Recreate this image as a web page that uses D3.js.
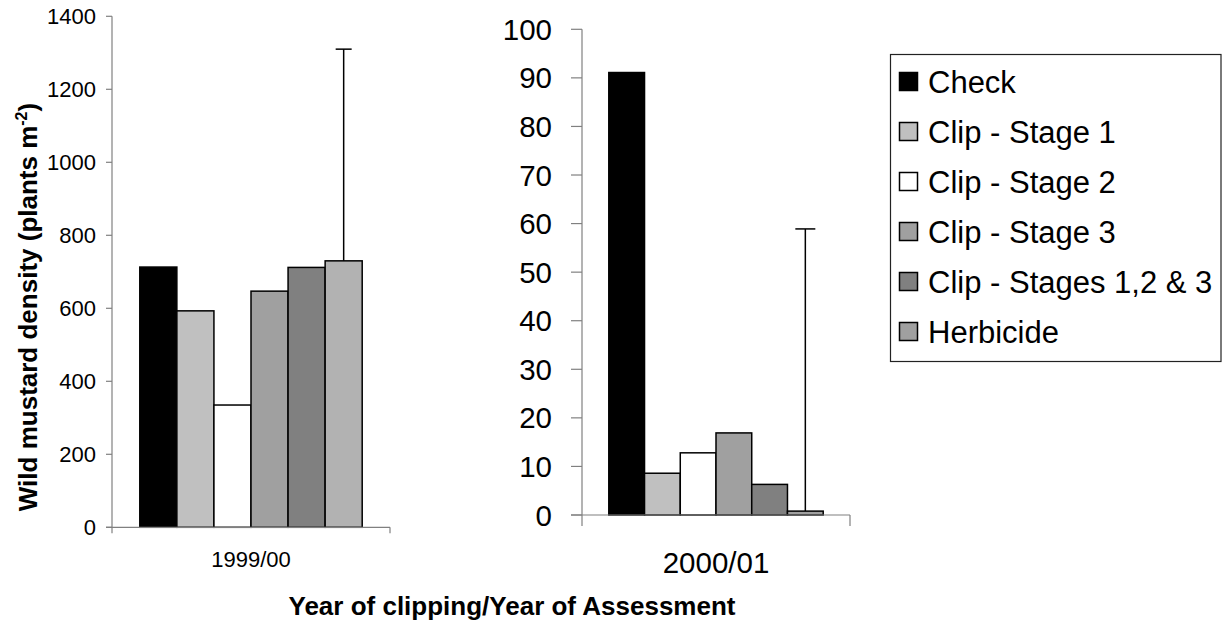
<!DOCTYPE html>
<html>
<head>
<meta charset="utf-8">
<script src="https://cdn.jsdelivr.net/npm/d3@7/dist/d3.min.js"></script>
<style>
  html, body { margin: 0; padding: 0; background: #fff; }
  svg { display: block; font-family: "Liberation Sans", Arial, Helvetica, sans-serif; }
</style>
</head>
<body>
<svg id="chart" width="1222" height="623"></svg>
<script>
// ---- data ----
const treatments = ["Check", "Clip - Stage 1", "Clip - Stage 2", "Clip - Stage 3", "Clip - Stages 1,2 & 3", "Herbicide"];
const years = ["1999/00", "2000/01"];
const values1999 = [713, 593, 335, 647, 712, 730];
const errors1999 = [0, 0, 0, 0, 0, 580];
const values2000 = [91.1, 8.6, 12.8, 16.9, 6.3, 0.8];
const errors2000 = [0, 0, 0, 0, 0, 58.1];
const ticks1999 = [0, 200, 400, 600, 800, 1000, 1200, 1400];
const ticks2000 = [0, 10, 20, 30, 40, 50, 60, 70, 80, 90, 100];
const colors = ["#000000", "#c0c0c0", "#ffffff", "#a0a0a0", "#808080", "#a0a0a0"];
const yTitle = "Wild mustard density (plants m";
const xTitle = "Year of clipping/Year of Assessment";

const svg = d3.select("#chart");
const axisColor = "#808080";

function panel(cfg) {
  const g = svg.append("g");
  const y = d3.scaleLinear().domain([0, cfg.max]).range([cfg.bottom, cfg.top]);
  const x = d3.scaleBand().domain([cfg.year]).range([cfg.left, cfg.right]).paddingInner(0.2).paddingOuter(0.1);
  const xb = d3.scaleBand().domain(d3.range(treatments.length)).range([0, x.bandwidth()]);

  g.append("line").attr("x1", cfg.left).attr("x2", cfg.left)
    .attr("y1", y(cfg.max)).attr("y2", y(0))
    .attr("stroke", axisColor).attr("stroke-width", 1.2);
  g.selectAll(".yt").data(cfg.ticks).enter().append("line")
    .attr("x1", cfg.left - cfg.tickLen).attr("x2", cfg.left)
    .attr("y1", d => y(d)).attr("y2", d => y(d))
    .attr("stroke", axisColor).attr("stroke-width", 1.2);
  g.selectAll(".yl").data(cfg.ticks).enter().append("text")
    .attr("x", cfg.left - cfg.labelGap)
    .attr("y", d => y(d))
    .attr("dy", "0.36em")
    .attr("text-anchor", "end")
    .attr("font-size", cfg.fontSize)
    .attr("fill", "#000")
    .text(d => d);

  const x0 = x(cfg.year);
  g.selectAll(".bar").data(cfg.values).enter().append("rect")
    .attr("x", (d, i) => x0 + xb(i))
    .attr("y", d => y(d))
    .attr("width", xb.bandwidth())
    .attr("height", d => y(0) - y(d))
    .attr("fill", (d, i) => (cfg.fills && cfg.fills[i]) || colors[i])
    .attr("stroke", "#000")
    .attr("stroke-width", 1.5);

  cfg.values.forEach((v, i) => {
    const e = cfg.errors[i];
    if (!e) return;
    const cx = x0 + xb(i) + xb.bandwidth() / 2;
    g.append("line").attr("x1", cx).attr("x2", cx)
      .attr("y1", y(v)).attr("y2", y(v + e))
      .attr("stroke", "#000").attr("stroke-width", 1.5);
    g.append("line").attr("x1", cx - cfg.cap / 2).attr("x2", cx + cfg.cap / 2)
      .attr("y1", y(v + e)).attr("y2", y(v + e))
      .attr("stroke", "#000").attr("stroke-width", 1.5);
  });

  g.append("line").attr("x1", cfg.left - cfg.tickLen).attr("x2", cfg.right)
    .attr("y1", y(0)).attr("y2", y(0))
    .attr("stroke", axisColor).attr("stroke-width", 1.2);
  [cfg.left, cfg.right].forEach(px => {
    g.append("line").attr("x1", px).attr("x2", px)
      .attr("y1", y(0)).attr("y2", y(0) + cfg.tickLen)
      .attr("stroke", axisColor).attr("stroke-width", 1.2);
  });
  g.append("text")
    .attr("x", x0 + x.bandwidth() / 2)
    .attr("y", cfg.catY)
    .attr("text-anchor", "middle")
    .attr("font-size", cfg.fontSize)
    .text(cfg.year);
}

panel({
  year: years[0], values: values1999, errors: errors1999, ticks: ticks1999, max: 1400,
  left: 112, right: 390, top: 16.3, bottom: 527.3,
  tickLen: 6, labelGap: 16, fontSize: 22, cap: 16, catY: 567,
  fills: [null, null, null, null, null, "#b2b2b2"]
});
panel({
  year: years[1], values: values2000, errors: errors2000, ticks: ticks2000, max: 100,
  left: 582, right: 850, top: 29.3, bottom: 515,
  tickLen: 11, labelGap: 30, fontSize: 29.5, cap: 20, catY: 573
});

const yt = svg.append("text")
  .attr("transform", "translate(37,307) rotate(-90)")
  .attr("text-anchor", "middle")
  .attr("font-size", 26)
  .attr("font-weight", "bold");
yt.append("tspan").text(yTitle);
yt.append("tspan").attr("font-size", 16).attr("dy", -10).text("-2");
yt.append("tspan").attr("dy", 10).text(")");

svg.append("text")
  .attr("x", 512).attr("y", 615)
  .attr("text-anchor", "middle")
  .attr("font-size", 26)
  .attr("font-weight", "bold")
  .text(xTitle);

const lg = svg.append("g");
lg.append("rect").attr("x", 890.5).attr("y", 54.5).attr("width", 330.5).attr("height", 307)
  .attr("fill", "#fff").attr("stroke", "#222").attr("stroke-width", 1.2);
const items = lg.selectAll(".li").data(treatments).enter().append("g")
  .attr("transform", (d, i) => `translate(0,${82 + i * 50})`);
items.append("rect").attr("x", 899.5).attr("y", -9.5).attr("width", 18).attr("height", 18)
  .attr("fill", (d, i) => colors[i]).attr("stroke", "#000").attr("stroke-width", 1.5);
items.append("text").attr("x", 928).attr("y", 11)
  .attr("font-size", 31).text(d => d);
</script>
</body>
</html>
